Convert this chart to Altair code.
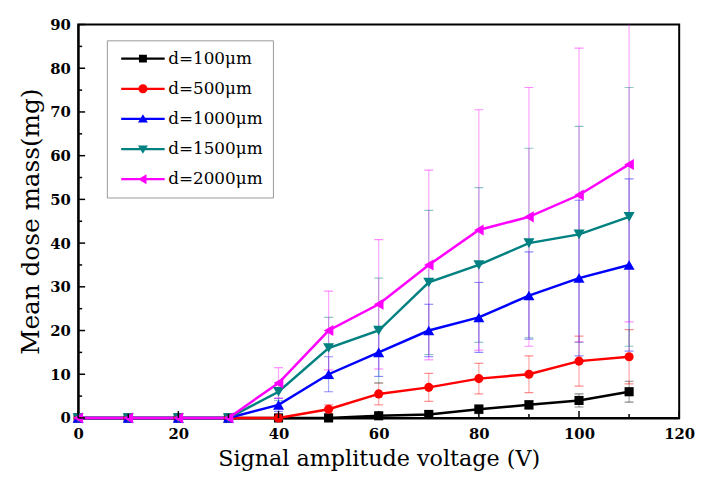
import altair as alt
import pandas as pd

voltage = [0, 10, 20, 30, 40, 50, 60, 70, 80, 90, 100, 110]
series_names = ["d=100μm", "d=500μm", "d=1000μm", "d=1500μm", "d=2000μm"]
series_colors = ["#000000", "#FF0000", "#0000FF", "#008080", "#FF00FF"]
series_shapes = ["square", "circle", "triangle-up", "triangle-down", "triangle-left"]

mean_100 = [0, 0, 0, 0, 0, 0, 0.5, 0.8, 2, 3, 4, 6]
err_100 = [0, 0, 0, 0, 0.3, 0.3, 0.6, 0.8, 1.0, 1.0, 1.5, 2.4]
mean_500 = [0, 0, 0, 0, 0, 2, 5.5, 7, 9, 10, 13, 14]
err_500 = [0, 0, 0, 0, 0.3, 1.0, 2.5, 3.2, 3.5, 4.2, 5.7, 6.2]
mean_1000 = [0, 0, 0, 0, 3, 10, 15, 20, 23, 28, 32, 35]
err_1000 = [0, 0, 0, 0, 1.5, 4.0, 5.5, 6.0, 8.0, 10.0, 17.8, 19.7]
mean_1500 = [0, 0, 0, 0, 6, 16, 20, 31, 35, 40, 42, 46]
err_1500 = [0, 0, 0, 0, 2.0, 7.0, 12.0, 16.5, 17.7, 21.7, 24.7, 29.6]
mean_2000 = [0, 0, 0, 0, 8, 20, 26, 35, 43, 46, 51, 58]
err_2000 = [0, 0, 0, 0, 3.5, 9.0, 14.8, 21.7, 27.5, 29.6, 33.6, 36.0]

x_major = [0, 20, 40, 60, 80, 100, 120]
x_minor = [10, 30, 50, 70, 90, 110]
y_major = [0, 10, 20, 30, 40, 50, 60, 70, 80, 90]
y_minor = [5, 15, 25, 35, 45, 55, 65, 75, 85]

means = [mean_100, mean_500, mean_1000, mean_1500, mean_2000]
errs = [err_100, err_500, err_1000, err_1500, err_2000]

rows = []
for name, m, e in zip(series_names, means, errs):
    for v, mv, ev in zip(voltage, m, e):
        rows.append({"voltage": v, "series": name, "mean": mv, "lo": mv - ev, "hi": mv + ev})
df = pd.DataFrame(rows)

W, H = 608, 398
FONT = "DejaVu Serif"

x_scale = alt.Scale(domain=[0, 120], nice=False, zero=False)
y_scale = alt.Scale(domain=[0, 90], nice=False)
color_scale = alt.Scale(domain=series_names, range=series_colors)

x_axis = alt.Axis(values=x_major, title="Signal amplitude voltage (V)", ticks=False, grid=False,
                  labelFont=FONT, labelFontSize=15, labelFontWeight="bold", labelColor="black",
                  labelPadding=9, titleFont=FONT, titleFontWeight="normal", titleFontSize=22.5,
                  titleColor="black", titlePadding=6, labelFlush=False)
y_axis = alt.Axis(values=y_major, title="Mean dose mass(mg)", ticks=False, grid=False,
                  labelFont=FONT, labelFontSize=15, labelFontWeight="bold", labelColor="black",
                  labelPadding=8, titleFont=FONT, titleFontWeight="normal", titleFontSize=25,
                  titleColor="black", titlePadding=6, labelFlush=False)


def X(field):
    return alt.X(field, scale=x_scale, axis=x_axis)


def Y(field):
    return alt.Y(field, scale=y_scale, axis=y_axis)


base = alt.Chart(df)

err_layers, line_layers, point_layers = [], [], []
for name, col, shp in zip(series_names, series_colors, series_shapes):
    sb = base.transform_filter(alt.datum.series == name)
    err_layers.append(sb.mark_rule(strokeWidth=1.2, opacity=0.35, clip=True, color=col).encode(
        x=X("voltage:Q"), y=Y("lo:Q"), y2="hi:Q"))
    err_layers.append(sb.mark_tick(orient="horizontal", size=9, thickness=1.2, opacity=0.45,
                                   clip=True, color=col).encode(x=X("voltage:Q"), y=Y("lo:Q")))
    err_layers.append(sb.mark_tick(orient="horizontal", size=9, thickness=1.2, opacity=0.45,
                                   clip=True, color=col).encode(x=X("voltage:Q"), y=Y("hi:Q")))
    line_layers.append(sb.mark_line(strokeWidth=2.5, color=col).encode(
        x=X("voltage:Q"), y=Y("mean:Q"), order="voltage:Q"))
    size = 85 if shp in ("square", "circle") else 125
    point_layers.append(sb.mark_point(shape=shp, filled=True, size=size, color=col, opacity=1).encode(
        x=X("voltage:Q"), y=Y("mean:Q")))

# legend symbols: a line segment with the marker on it
line_part = "M-5.5,-0.28H5.5V0.28H-5.5Z"
legend_paths = [
    line_part + "M-1,-1H1V1H-1Z",
    line_part + "M-1.15,0A1.15,1.15,0,1,1,1.15,0A1.15,1.15,0,1,1,-1.15,0Z",
    line_part + "M0,-1.2L1.25,0.9L-1.25,0.9Z",
    line_part + "M0,1.2L-1.25,-0.9L1.25,-0.9Z",
    line_part + "M-1.2,0L0.9,-1.25L0.9,1.25Z",
]
leg = alt.Legend(title=None, orient="none", legendX=29, legendY=16, symbolSize=64,
                 symbolStrokeWidth=0, symbolOffset=18, labelOffset=17,
                 labelFont=FONT, labelFontSize=17, labelColor="black", rowPadding=12.5,
                 padding=10, strokeColor="#999999", fillColor="white", labelLimit=300)
legend_layer = base.transform_filter(alt.datum.mean < -1000).mark_point(filled=True, opacity=1).encode(
    x=X("voltage:Q"), y=Y("mean:Q"),
    color=alt.Color("series:N", scale=color_scale, legend=leg),
    shape=alt.Shape("series:N", scale=alt.Scale(domain=series_names, range=legend_paths), legend=leg),
)

# inward ticks
xmaj = alt.Chart(pd.DataFrame({"voltage": x_major})).mark_rule(color="black", strokeWidth=1.5).encode(
    x=X("voltage:Q"), y=alt.value(H), y2=alt.value(H - 7))
xmin = alt.Chart(pd.DataFrame({"voltage": x_minor})).mark_rule(color="black", strokeWidth=1.5).encode(
    x=X("voltage:Q"), y=alt.value(H), y2=alt.value(H - 4))
ymaj = alt.Chart(pd.DataFrame({"mean": y_major})).mark_rule(color="black", strokeWidth=1.5).encode(
    y=Y("mean:Q"), x=alt.value(0), x2=alt.value(7))
ymin = alt.Chart(pd.DataFrame({"mean": y_minor})).mark_rule(color="black", strokeWidth=1.5).encode(
    y=Y("mean:Q"), x=alt.value(0), x2=alt.value(4))

chart = alt.layer(
    *err_layers, *line_layers, *point_layers, legend_layer, xmaj, xmin, ymaj, ymin
).properties(
    width=W, height=H, autosize="none",
    padding={"left": 71, "top": 14, "right": 17, "bottom": 56},
    background="white",
).configure_view(stroke="black", strokeWidth=2).configure_axis(
    domainColor="black", domainWidth=2
)

chart.save("out.html", embed_options={"renderer": "svg", "actions": False})
